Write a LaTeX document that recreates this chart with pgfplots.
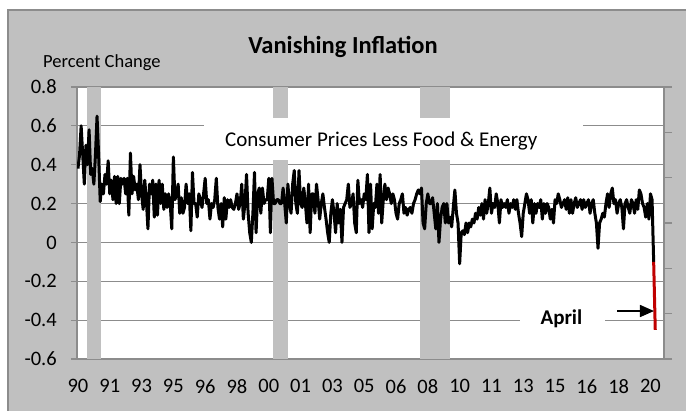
\documentclass[border=0pt]{standalone}
\usepackage{pgfplots}
\pgfplotsset{compat=1.18}
\usepackage{fontspec}
\setmainfont{Carlito}
\usetikzlibrary{arrows.meta}
\definecolor{bg}{HTML}{C0C0C0}
\definecolor{gridc}{HTML}{8C8C8C}
\definecolor{darkred}{HTML}{C00000}
\begin{document}
\begin{tikzpicture}[x=1pt,y=1pt]
\path[use as bounding box] (0,0) rectangle (686,411);
\fill[white] (0,0) rectangle (686,411);
\fill[bg] (8,0) rectangle (686,401);
\draw[gridc, line width=1.2pt] (8,0) -- (8,401) -- (686,401);
\begin{axis}[
  at={(77pt,52pt)}, anchor=south west, scale only axis,
  width=587pt, height=272pt,
  xmin=-0.6, xmax=368.5, ymin=-0.6, ymax=0.8,
  axis background/.style={fill=white},
  axis line style={gridc, line width=1.2pt},
  ytick={-0.6,-0.4,-0.2,0,0.2,0.4,0.6,0.8},
  yticklabels={-0.6,-0.4,-0.2,0,0.2,0.4,0.6,0.8},
  ytick pos=left, tick align=outside, major tick length=6pt,
  tick style={gridc, line width=1.2pt},
  ymajorgrids, grid style={gridc, line width=1.2pt},
  xtick={0,20,...,360},
  xticklabels={90,91,93,95,96,98,00,01,03,05,06,08,10,11,13,15,16,18,20},
  xtick style={draw=none},
  ticklabel style={font=\fontsize{20.5}{24}\selectfont},
  yticklabel style={inner sep=0pt, anchor=east, xshift=-14pt},
  xticklabel style={inner sep=0pt, anchor=north, yshift=-14.5pt},
]
% recession shading
\addplot[fill=bg, draw=none] coordinates {(5.7,-0.6) (14.5,-0.6) (14.5,0.8) (5.7,0.8)} -- cycle;
\addplot[fill=bg, draw=none] coordinates {(122.7,-0.6) (132.2,-0.6) (132.2,0.8) (122.7,0.8)} -- cycle;
\addplot[fill=bg, draw=none] coordinates {(215.2,-0.6) (234.1,-0.6) (234.1,0.8) (215.2,0.8)} -- cycle;
% core CPI, monthly percent change, Jan 1990 = 0
\addplot[black, line width=3pt, line join=round, mark=none] coordinates {
(0,0.38)(1,0.45)(2,0.60)(3,0.45)(4,0.30)(5,0.50)(6,0.40)(7,0.58)(8,0.35)(9,0.38)
(10,0.30)(11,0.45)(12,0.65)(13,0.45)(14,0.21)(15,0.30)(16,0.25)(17,0.35)(18,0.30)(19,0.42)
(20,0.25)(21,0.32)(22,0.22)(23,0.34)(24,0.20)(25,0.34)(26,0.20)(27,0.33)(28,0.30)(29,0.33)
(30,0.25)(31,0.33)(32,0.14)(33,0.46)(34,0.25)(35,0.34)(36,0.27)(37,0.30)(38,0.22)(39,0.40)
(40,0.25)(41,0.17)(42,0.32)(43,0.22)(44,0.07)(45,0.30)(46,0.25)(47,0.32)(48,0.13)(49,0.30)
(50,0.14)(51,0.32)(52,0.20)(53,0.30)(54,0.17)(55,0.25)(56,0.18)(57,0.25)(58,0.20)(59,0.07)
(60,0.44)(61,0.22)(62,0.25)(63,0.30)(64,0.15)(65,0.23)(66,0.15)(67,0.18)(68,0.30)(69,0.20)
(70,0.25)(71,0.06)(72,0.36)(73,0.20)(74,0.20)(75,0.13)(76,0.25)(77,0.22)(78,0.18)(79,0.25)
(80,0.33)(81,0.20)(82,0.22)(83,0.12)(84,0.20)(85,0.18)(86,0.22)(87,0.33)(88,0.18)(89,0.12)
(90,0.20)(91,0.08)(92,0.23)(93,0.12)(94,0.22)(95,0.18)(96,0.22)(97,0.18)(98,0.17)(99,0.20)
(100,0.25)(101,0.17)(102,0.20)(103,0.30)(104,0.12)(105,0.20)(106,0.35)(107,0.15)(108,0.05)(109,0.00)
(110,0.15)(111,0.36)(112,0.05)(113,0.25)(114,0.28)(115,0.15)(116,0.28)(117,0.20)(118,0.22)(119,0.22)
(120,0.33)(121,0.05)(122,0.33)(123,0.20)(124,0.20)(125,0.22)(126,0.22)(127,0.20)(128,0.20)(129,0.28)
(130,0.20)(131,0.10)(132,0.30)(133,0.20)(134,0.15)(135,0.30)(136,0.37)(137,0.20)(138,0.15)(139,0.37)
(140,0.20)(141,0.18)(142,0.28)(143,0.20)(144,0.10)(145,0.30)(146,0.05)(147,0.25)(148,0.25)(149,0.15)
(150,0.30)(151,0.22)(152,0.12)(153,0.20)(154,0.25)(155,0.18)(156,0.12)(157,0.05)(158,0.00)(159,0.15)
(160,0.22)(161,0.15)(162,0.05)(163,0.20)(164,0.10)(165,0.17)(166,0.00)(167,0.18)(168,0.20)(169,0.22)
(170,0.30)(171,0.18)(172,0.20)(173,0.25)(174,0.10)(175,0.05)(176,0.32)(177,0.20)(178,0.22)(179,0.18)
(180,0.25)(181,0.22)(182,0.35)(183,0.05)(184,0.30)(185,0.07)(186,0.20)(187,0.18)(188,0.30)(189,0.15)
(190,0.35)(191,0.10)(192,0.22)(193,0.30)(194,0.22)(195,0.28)(196,0.25)(197,0.20)(198,0.25)(199,0.22)
(200,0.15)(201,0.12)(202,0.20)(203,0.22)(204,0.25)(205,0.15)(206,0.18)(207,0.14)(208,0.17)(209,0.18)
(210,0.15)(211,0.20)(212,0.22)(213,0.25)(214,0.27)(215,0.25)(216,0.28)(217,0.10)(218,0.07)(219,0.20)
(220,0.25)(221,0.20)(222,0.20)(223,0.23)(224,0.15)(225,0.07)(226,0.20)(227,0.00)(228,0.12)(229,0.18)
(230,0.20)(231,0.10)(232,0.20)(233,0.10)(234,0.13)(235,0.08)(236,0.18)(237,0.27)(238,0.15)(239,0.10)
(240,-0.11)(241,0.05)(242,0.06)(243,0.04)(244,0.10)(245,0.05)(246,0.10)(247,0.08)(248,0.12)(249,0.10)
(250,0.15)(251,0.12)(252,0.18)(253,0.14)(254,0.20)(255,0.12)(256,0.22)(257,0.15)(258,0.20)(259,0.28)
(260,0.15)(261,0.20)(262,0.18)(263,0.25)(264,0.20)(265,0.10)(266,0.22)(267,0.18)(268,0.20)(269,0.18)
(270,0.22)(271,0.15)(272,0.20)(273,0.18)(274,0.22)(275,0.17)(276,0.22)(277,0.15)(278,0.10)(279,0.03)
(280,0.15)(281,0.20)(282,0.25)(283,0.22)(284,0.15)(285,0.22)(286,0.10)(287,0.20)(288,0.15)(289,0.20)
(290,0.18)(291,0.22)(292,0.12)(293,0.20)(294,0.15)(295,0.20)(296,0.18)(297,0.12)(298,0.17)(299,0.10)
(300,0.22)(301,0.20)(302,0.25)(303,0.22)(304,0.18)(305,0.20)(306,0.22)(307,0.17)(308,0.23)(309,0.15)
(310,0.22)(311,0.15)(312,0.20)(313,0.23)(314,0.18)(315,0.20)(316,0.22)(317,0.17)(318,0.22)(319,0.18)
(320,0.20)(321,0.22)(322,0.15)(323,0.20)(324,0.22)(325,0.15)(326,0.10)(327,-0.03)(328,0.10)(329,0.12)
(330,0.15)(331,0.13)(332,0.20)(333,0.25)(334,0.18)(335,0.25)(336,0.28)(337,0.20)(338,0.22)(339,0.15)
(340,0.20)(341,0.22)(342,0.18)(343,0.07)(344,0.20)(345,0.22)(346,0.18)(347,0.15)(348,0.22)(349,0.20)
(350,0.15)(351,0.22)(352,0.17)(353,0.27)(354,0.25)(355,0.20)(356,0.18)(357,0.13)(358,0.20)(359,0.12)
(360,0.25)(361,0.22)(362,-0.10)
};
\addplot[darkred, line width=3pt, mark=none] coordinates {(362,-0.10)(363,-0.45)};
% annotations
\fill[white] (axis cs:79.2,0.64) rectangle (axis cs:317.6,0.425);
\node[font=\fontsize{21}{25}\selectfont] at (axis cs:190.7,0.522) {Consumer Prices Less Food \& Energy};
\fill[white] (axis cs:278,-0.33) rectangle (axis cs:331.4,-0.46);
\node[font=\fontsize{21}{25}\selectfont\bfseries] at (axis cs:304,-0.391) {April};
\draw[black, line width=1.5pt, -{Triangle[length=14pt,width=12pt]}] (axis cs:339.2,-0.353) -- (axis cs:362.2,-0.353);
\end{axis}
\begin{axis}[
  at={(77pt,52pt)}, anchor=south west, scale only axis,
  width=587pt, height=272pt,
  xmin=0, xmax=1, ymin=0, ymax=6,
  axis y line*=right, axis x line=none,
  ytick={0,1,2,3,4,5,6}, yticklabels={},
  tick align=outside, major tick length=8pt,
  axis line style={gridc, line width=1.2pt},
  tick style={gridc, line width=1.2pt},
]
\end{axis}
\node[font=\fontsize{24.5}{29}\selectfont\bfseries] at (343,364) {Vanishing Inflation};
\node[anchor=west, inner sep=0pt, font=\fontsize{18.5}{22}\selectfont] at (43,348) {Percent Change};
\end{tikzpicture}
\end{document}
